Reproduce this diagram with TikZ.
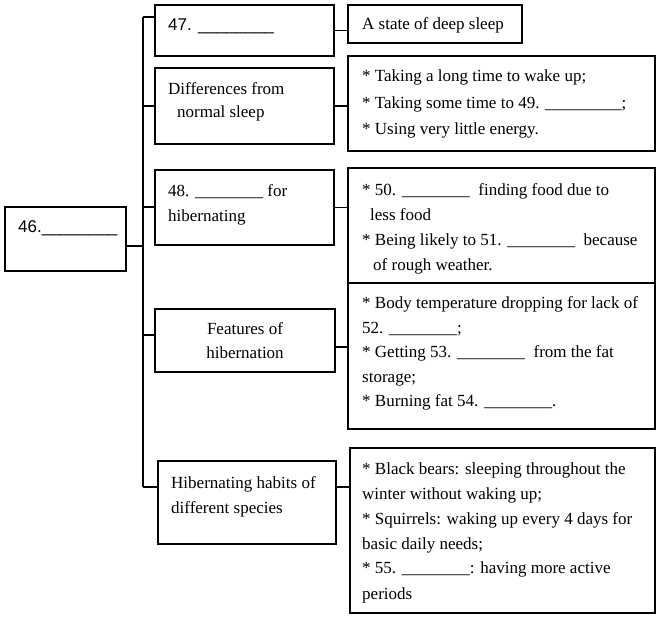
\documentclass[tikz,border=0pt]{standalone}
\usepackage{fontspec}
\setmainfont{Liberation Serif}
\newfontfamily\numfont{Liberation Sans}
\newcommand{\fillin}{\_\_\_\_\_\_\_\_}
\newcommand{\leftlines}[1]{\begin{tabular}[t]{@{}l@{}}#1\end{tabular}}
\newcommand{\midlines}[1]{\begin{tabular}[t]{@{}c@{}}#1\end{tabular}}

\begin{document}
\begin{tikzpicture}[
    x=1pt, y=-1pt,
    font=\fontsize{17}{25}\selectfont,
    box/.style={
        draw,
        line width=1.2pt,
        inner sep=0pt,
        outer sep=0pt,
        anchor=north west
    },
    txt/.style={anchor=base west, inner sep=0pt},
    link/.style={line width=1.2pt}
]
\useasboundingbox (0,0) rectangle (656,617);

\node[box, minimum width=121, minimum height=64] (topic) at (5,207) {};
\node[box, minimum width=179, minimum height=51] (what) at (155,5) {};
\node[box, minimum width=179, minimum height=76] (diff) at (155,68) {};
\node[box, minimum width=179, minimum height=75] (why) at (155,170) {};
\node[box, minimum width=180, minimum height=63] (feat) at (155,309) {};
\node[box, minimum width=178, minimum height=83] (habit) at (158,461) {};

\node[box, minimum width=174, minimum height=38] (whatR) at (348,5) {};
\node[box, minimum width=307, minimum height=95] (diffR) at (348,56) {};
\node[box, minimum width=307, minimum height=115] (whyR) at (348,168) {};
\node[box, minimum width=307, minimum height=146] (featR) at (348,283) {};
\node[box, minimum width=305, minimum height=165] (habitR) at (350,448) {};

\node[txt] (topicT) at ([shift={(13,26)}]topic.north west) {\numfont 46.\fillin};
\node[txt] (whatT) at ([shift={(13,26)}]what.north west) {\numfont 47. \fillin};
\node[txt, font=\fontsize{17}{23}\selectfont] (diffT) at ([shift={(13,27)}]diff.north west)
    {\leftlines{Differences from\\\hspace{9pt}normal sleep}};
\node[txt] (whyT) at ([shift={(13,27)}]why.north west) {\leftlines{48. \fillin\ for\\hibernating}};
\node[anchor=base, inner sep=0pt, font=\fontsize{17}{24}\selectfont] (featT)
    at ([yshift=-26pt]feat.north) {\midlines{Features of\\hibernation}};
\node[txt] (habitT) at ([shift={(13,27)}]habit.north west) {\leftlines{Hibernating habits of\\different species}};

\node[txt] (whatRT) at ([shift={(14,25)}]whatR.north west) {A state of deep sleep};
\node[txt, font=\fontsize{17}{26.5}\selectfont] (diffRT) at ([shift={(14,26)}]diffR.north west)
    {\leftlines{{*} Taking a long time to wake up;\\
     {*} Taking some time to 49. \fillin\_;\\
     {*} Using very little energy.}};
\node[txt] (whyRT) at ([shift={(14,28)}]whyR.north west)
    {\leftlines{{*} 50. \fillin\ \ finding food due to\\
     \hspace{8pt}less food\\
     {*} Being likely to 51. \fillin\ \ because\\
     \hspace{11pt}of rough weather.}};
\node[txt, font=\fontsize{17}{24.5}\selectfont] (featRT) at ([shift={(14,26)}]featR.north west)
    {\leftlines{{*} Body temperature dropping for lack of\\
     52. \fillin;\\
     {*} Getting 53. \fillin\ \ from the fat\\
     storage;\\
     {*} Burning fat 54. \fillin.}};
\node[txt] (habitRT) at ([shift={(12,26)}]habitR.north west)
    {\leftlines{{*} Black bears: sleeping throughout the\\
     winter without waking up;\\
     {*} Squirrels: waking up every 4 days for\\
     basic daily needs;\\
     {*} 55. \fillin: having more active\\
     periods}};

\coordinate (t1) at (143,17);
\coordinate (t2) at (143,106);
\coordinate (t3) at (143,207);
\coordinate (t4) at (143,335);
\coordinate (t5) at (143,487);
\coordinate (t0) at (143,246);

\draw[link] (t1) -- (t5);
\draw[link] ([yshift=-7pt]topic.east) -- (t0);
\draw[link] (t1) -- (t1 -| what.west);
\draw[link] (t2) -- (t2 -| diff.west);
\draw[link] (t3) -- (t3 -| why.west);
\draw[link] (t4) -- (t4 -| feat.west);
\draw[link] (t5) -- (t5 -| habit.west);

\draw[link] (what.east) -- (what.east -| whatR.west);
\draw[link] (diff.east) -- (diff.east -| diffR.west);
\draw[link] (why.east) -- (why.east -| whyR.west);
\draw[link] ([yshift=-6.5pt]feat.east) -- ([yshift=-6.5pt]feat.east -| featR.west);
\draw[link] (t5 -| habit.east) -- (t5 -| habitR.west);

\end{tikzpicture}
\end{document}
